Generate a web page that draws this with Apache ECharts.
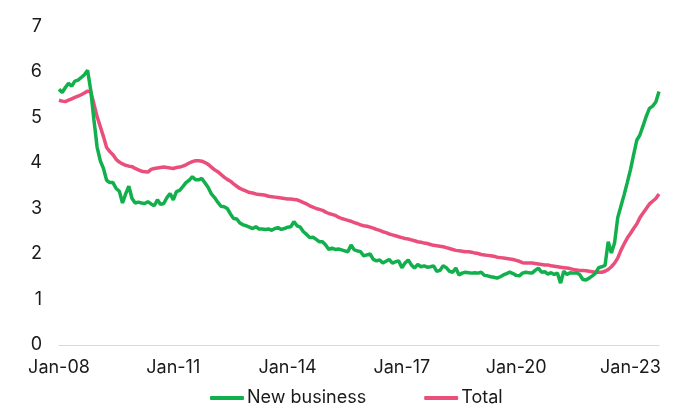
<!DOCTYPE html>
<html>
<head>
<meta charset="utf-8">
<script src="https://cdn.jsdelivr.net/npm/echarts@6/dist/echarts.min.js"></script>
<style>
html,body{margin:0;padding:0;background:#fff;}
#chart{width:675px;height:405px;}
</style>
</head>
<body>
<div id="chart"></div>
<script>
// Monthly categories Jan-08 .. Oct-23
var monthNames = ['Jan','Feb','Mar','Apr','May','Jun','Jul','Aug','Sep','Oct','Nov','Dec'];
var startYear = 2008, monthCount = 190;
var categories = [];
for (var i = 0; i < monthCount; i++) {
  var y = startYear + Math.floor(i / 12);
  categories.push(monthNames[i % 12] + '-' + String(y % 100).padStart(2, '0'));
}

var seriesNames = ['New business', 'Total'];

var newBusiness = [
  5.62,5.55,5.66,5.75,5.69,5.80,5.82,5.88,5.94,6.04,5.60,4.95,4.35,4.05,3.88,3.62,3.57,3.57,3.44,3.38,
  3.12,3.32,3.49,3.22,3.12,3.14,3.12,3.11,3.15,3.10,3.06,3.19,3.09,3.11,3.24,3.33,3.19,3.37,3.40,3.48,
  3.57,3.62,3.70,3.63,3.63,3.66,3.56,3.46,3.32,3.24,3.14,3.05,3.04,3.00,2.88,2.78,2.77,2.68,2.64,2.62,
  2.59,2.56,2.60,2.55,2.55,2.54,2.55,2.52,2.56,2.58,2.54,2.56,2.59,2.60,2.71,2.62,2.59,2.49,2.43,2.36,
  2.37,2.32,2.27,2.27,2.20,2.10,2.13,2.10,2.11,2.09,2.07,2.05,2.20,2.09,2.07,2.05,1.96,1.98,2.00,1.88,
  1.85,1.87,1.80,1.84,1.88,1.80,1.83,1.85,1.70,1.80,1.87,1.76,1.69,1.77,1.72,1.74,1.71,1.72,1.74,1.62,
  1.64,1.74,1.70,1.62,1.60,1.69,1.54,1.58,1.60,1.59,1.58,1.59,1.58,1.60,1.53,1.52,1.50,1.49,1.47,1.50,
  1.54,1.57,1.60,1.57,1.53,1.52,1.58,1.60,1.59,1.58,1.64,1.69,1.60,1.61,1.56,1.59,1.55,1.58,1.36,1.62,
  1.55,1.59,1.58,1.59,1.55,1.44,1.43,1.47,1.52,1.58,1.70,1.72,1.75,2.27,2.02,2.24,2.80,3.05,3.30,3.57,
  3.85,4.18,4.50,4.62,4.82,5.03,5.20,5.25,5.34,5.57
];

var total = [
  5.38,5.36,5.35,5.38,5.41,5.44,5.47,5.50,5.54,5.58,5.57,5.30,5.02,4.80,4.58,4.34,4.25,4.18,4.08,4.02,
  3.98,3.95,3.93,3.92,3.88,3.85,3.82,3.81,3.80,3.86,3.88,3.89,3.90,3.91,3.90,3.89,3.88,3.90,3.91,3.93,
  3.96,4.00,4.03,4.05,4.05,4.04,4.01,3.97,3.91,3.85,3.81,3.75,3.69,3.64,3.60,3.54,3.49,3.44,3.41,3.38,
  3.35,3.34,3.32,3.31,3.30,3.29,3.27,3.26,3.25,3.24,3.23,3.22,3.21,3.21,3.20,3.19,3.16,3.13,3.10,3.06,
  3.03,3.00,2.98,2.96,2.92,2.89,2.87,2.85,2.81,2.78,2.76,2.74,2.72,2.69,2.67,2.64,2.62,2.61,2.59,2.57,
  2.54,2.52,2.49,2.47,2.44,2.42,2.40,2.38,2.36,2.34,2.33,2.31,2.29,2.27,2.26,2.24,2.23,2.21,2.19,2.18,
  2.17,2.16,2.14,2.12,2.10,2.08,2.07,2.06,2.05,2.05,2.04,2.02,2.01,1.99,1.98,1.97,1.96,1.95,1.93,1.92,
  1.91,1.90,1.89,1.88,1.86,1.84,1.81,1.80,1.80,1.80,1.79,1.78,1.77,1.76,1.76,1.74,1.73,1.72,1.71,1.70,
  1.69,1.68,1.66,1.65,1.64,1.64,1.63,1.62,1.61,1.60,1.60,1.60,1.62,1.66,1.72,1.80,1.91,2.08,2.22,2.35,
  2.45,2.56,2.66,2.80,2.90,3.00,3.10,3.16,3.22,3.32
];

var yMin = 0, yMax = 7, yInterval = 1;
var colors = ['#12b04c', '#ea4f7c'];

var chart = echarts.init(document.getElementById('chart'), null, {renderer: 'canvas'});
var font = 'Inter';
chart.setOption({
  animation: false,
  backgroundColor: '#ffffff',
  color: colors,
  grid: {left: 59, right: 16, top: 26.5, bottom: 60, containLabel: false},
  legend: {
    data: seriesNames,
    left: 205,
    top: 384,
    icon: 'roundRect',
    itemWidth: 34,
    itemHeight: 4,
    itemGap: 58,
    textStyle: {fontFamily: font, fontSize: 18, color: '#1a1a1a', padding: [0, 0, 0, -2]}
  },
  xAxis: {
    type: 'category',
    data: categories,
    boundaryGap: false,
    axisLine: {show: true, lineStyle: {color: '#d9d9d9', width: 1}},
    axisTick: {show: false},
    axisLabel: {interval: 35, margin: 14, fontFamily: font, fontSize: 18, color: '#1a1a1a'},
    splitLine: {show: false}
  },
  yAxis: {
    type: 'value',
    min: yMin, max: yMax, interval: yInterval,
    axisLine: {show: false},
    axisTick: {show: false},
    splitLine: {show: false},
    axisLabel: {margin: 17, fontFamily: font, fontSize: 18, color: '#1a1a1a'}
  },
  series: [
    {name: seriesNames[0], type: 'line', data: newBusiness, showSymbol: false, symbol: 'none',
     lineStyle: {width: 3.5, color: colors[0]}, itemStyle: {color: colors[0]}},
    {name: seriesNames[1], type: 'line', data: total, showSymbol: false, symbol: 'none',
     lineStyle: {width: 3.5, color: colors[1]}, itemStyle: {color: colors[1]}, z: 1}
  ]
});
</script>
</body>
</html>
